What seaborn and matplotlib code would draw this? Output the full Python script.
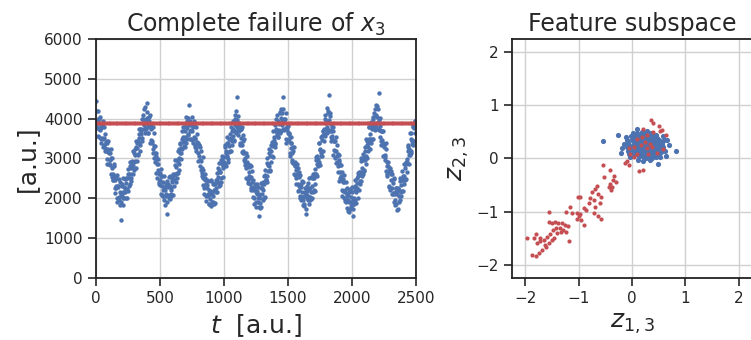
import numpy as np
import pandas as pd
import matplotlib
matplotlib.use("Agg")
import matplotlib.pyplot as plt
import seaborn as sns

# --- left panel: sensor signal over time, two interleaved sample streams ---
t_step = 5
signal = [
    4450, 3760, 3970, 4180, 3740, 3550, 3860, 3720, 3380, 3840, 3850, 3500, 3350, 3800, 3200, 3400, 3200, 3450, 2850, 3250,
    2850, 3150, 2950, 2600, 3000, 3000, 2600, 2450, 2850, 2250, 2450, 2250, 2500, 1900, 2300, 2300, 1950, 2150, 2400, 1450,
    2350, 2050, 2000, 2500, 2000, 2250, 2150, 2500, 2000, 2500, 2600, 2300, 2600, 2900, 2600, 2500, 2900, 2850, 2600, 3150,
    2900, 3250, 2750, 3300, 3400, 3100, 3450, 3750, 3400, 3350, 3750, 3700, 3450, 4000, 4100, 3850, 3750, 4300, 3750, 4000,
    4400, 3850, 3650, 3950, 3800, 3400, 3850, 3800, 3400, 3250, 3650, 3000, 3150, 2900, 3150, 2500, 2850, 2850, 2400, 2600,
    2450, 2100, 2550, 2550, 2200, 2050, 2550, 1950, 2200, 2050, 2350, 1600, 2300, 2350, 2000, 2300, 2550, 2200, 2050, 2450,
    2500, 2600, 2300, 2600, 2950, 2600, 2500, 2950, 2900, 2700, 3250, 3400, 3150, 3150, 3700, 3250, 3550, 3450, 3800, 3300,
    3900, 3400, 3850, 3950, 3600, 3850, 4350, 3700, 3500, 3850, 3700, 3400, 3850, 3850, 3500, 3350, 3800, 3200, 3400, 3150,
    3400, 3350, 2950, 2800, 3200, 2550, 2750, 2500, 2700, 2100, 2500, 2450, 2050, 2250, 2450, 2050, 1850, 2200, 2100, 1800,
    2450, 1900, 2150, 2050, 2350, 1850, 2350, 2450, 2150, 2450, 2750, 2400, 2300, 2700, 2650, 2400, 2950, 3050, 2800, 2750,
    2800, 3350, 2850, 3150, 3050, 3400, 2900, 3400, 3500, 3200, 3500, 3800, 3450, 3350, 3750, 3700, 3450, 4000, 4100, 3850,
    4550, 3800, 3600, 3900, 3700, 3350, 3750, 3750, 3350, 3200, 3600, 2950, 3150, 2900, 3150, 2500, 2900, 2850, 2450, 2650,
    2500, 2350, 2800, 2200, 2400, 2200, 2450, 1850, 2250, 2250, 1900, 2100, 2350, 1900, 1550, 2100, 2000, 1750, 2250, 2350,
    2250, 2200, 2000, 2550, 2700, 2450, 2450, 3000, 2550, 2850, 2800, 3150, 2700, 3200, 3350, 3050, 3400, 3700, 3400, 3300,
    3400, 3700, 4000, 3650, 3550, 3950, 3900, 3650, 4150, 4250, 3950, 3850, 4550, 3750, 3950, 3750, 4000, 3400, 3800, 3800,
    3650, 3450, 3650, 3050, 3400, 3400, 2950, 3150, 3300, 2850, 2600, 2900, 2700, 2350, 2750, 2750, 2350, 2200, 2650, 2050,
    2350, 1950, 2150, 2400, 1950, 1800, 2150, 2050, 1600, 2250, 2300, 2050, 1950, 2500, 1950, 2250, 2150, 2500, 2000, 2500,
    2200, 2600, 2600, 2350, 2950, 3050, 2850, 2800, 3400, 2900, 3250, 3150, 3550, 3050, 3600, 3700, 3450, 3750, 4100, 3750,
    3900, 3650, 4150, 4200, 4600, 3700, 4150, 3550, 3700, 3500, 3700, 3100, 3450, 3450, 3000, 3200, 3350, 2900, 2650, 2950,
    3100, 2500, 2650, 2450, 2650, 2050, 2400, 2400, 2000, 2200, 2400, 1950, 1750, 2100, 1950, 1650, 2150, 2200, 1900, 1800,
    2150, 1550, 1950, 1900, 2450, 1950, 2250, 2150, 2500, 2000, 2550, 2650, 2350, 2650, 3000, 2650, 2550, 3000, 2950, 2700,
    2950, 3300, 2850, 3350, 3450, 3200, 3500, 3800, 3500, 3400, 3800, 3750, 3500, 4050, 4150, 3900, 3800, 4350, 3800, 4050,
    4250, 3900, 3750, 4650, 3550, 3700, 3450, 3700, 3050, 3400, 3350, 2950, 3100, 3250, 2800, 2550, 2800, 2650, 2300, 2750,
    2200, 2600, 2600, 2250, 2100, 2500, 1900, 2150, 1950, 2250, 1700, 2150, 2250, 1900, 2200, 2500, 2150, 2050, 2450, 2450,
    2550, 2850, 2550, 2450, 2900, 2850, 2650, 3200, 3350, 3100, 3100, 3650, 3200, 3500, 3450, 3800, 3350, 3850, 3950, 3650,
]
signal_b = [
    3820, 4180, 3980, 3560, 3980, 3760, 4040, 3490, 3770, 3520, 3930, 3290, 3510, 3270, 3620, 3410, 2980, 3390, 3160, 3430,
    2870, 3140, 2830, 3230, 2540, 2760, 2470, 2820, 2560, 2130, 2540, 2310, 2580, 2020, 2290, 2030, 2480, 1840, 2110, 1920,
    2320, 2160, 1830, 2290, 2160, 2480, 2020, 2390, 2230, 2730, 2190, 2510, 2370, 2820, 2760, 2430, 2940, 2810, 3180, 2720,
    3090, 2930, 3430, 2940, 3260, 3120, 3620, 3510, 3180, 3740, 3610, 3980, 3520, 3890, 3730, 4230, 3640, 3960, 3770, 4170,
    4010, 3630, 4040, 3810, 4080, 3470, 3740, 3430, 3780, 3140, 3310, 3020, 3320, 3060, 2630, 2990, 2710, 2980, 2370, 2640,
    2330, 2730, 2090, 2310, 2070, 2420, 2260, 1830, 2290, 2110, 2430, 1920, 2290, 2080, 2530, 1990, 2260, 2120, 2520, 2410,
    2080, 2590, 2460, 2830, 2420, 2790, 2630, 3180, 2640, 3010, 2870, 3370, 3260, 2980, 3490, 3410, 3780, 3320, 3690, 3530,
    4030, 3490, 3760, 3620, 4020, 3860, 3480, 3940, 3710, 4030, 3470, 3790, 3530, 3930, 3290, 3510, 3270, 3620, 3410, 2930,
    3340, 3060, 3280, 2720, 2940, 2630, 3030, 2340, 2510, 2270, 2620, 2360, 1930, 2340, 2110, 2430, 1870, 2190, 1980, 2430,
    1840, 2110, 1920, 2370, 2210, 1880, 2390, 2260, 2630, 2170, 2540, 2380, 2880, 2340, 2660, 2520, 2970, 2860, 2530, 3040,
    2910, 3280, 2820, 3190, 3030, 3530, 2990, 3310, 3170, 3620, 3510, 3180, 3690, 3560, 3930, 3470, 3840, 3680, 4180, 3640,
    3960, 3720, 4070, 3860, 3380, 3790, 3510, 3780, 3170, 3440, 3130, 3480, 2840, 3010, 2770, 3070, 2860, 2380, 2790, 2560,
    2830, 2270, 2540, 2280, 2680, 2040, 2260, 2020, 2370, 2160, 1780, 2190, 2010, 2280, 1770, 2090, 1880, 2380, 1790, 2110,
    1970, 2420, 2360, 2030, 2590, 2460, 2880, 2420, 2840, 2680, 3230, 2690, 3060, 2920, 3420, 3310, 3030, 3540, 3460, 3830,
    3370, 3740, 3580, 4080, 3540, 3860, 3720, 4170, 4010, 3680, 4140, 3960, 4230, 3720, 3990, 3730, 4130, 3490, 3710, 3470,
    3820, 3610, 3130, 3540, 3260, 3530, 2920, 3190, 2880, 3280, 2590, 2810, 2520, 2870, 2610, 2180, 2540, 2310, 2580, 2020,
    2290, 2030, 2430, 1840, 2060, 1870, 2270, 2110, 1730, 2190, 2010, 2380, 1870, 2240, 2030, 2530, 1990, 2310, 2170, 2620,
    2510, 2180, 2740, 2610, 3030, 2570, 2990, 2830, 3380, 2840, 3210, 3070, 3570, 3460, 3180, 3690, 3610, 3980, 3570, 3940,
    3780, 4280, 3690, 3960, 3720, 4070, 3860, 3430, 3790, 3560, 3780, 3220, 3440, 3180, 3530, 2890, 3060, 2820, 3120, 2910,
    2430, 2840, 2560, 2830, 2220, 2490, 2180, 2580, 1940, 2160, 1920, 2270, 2060, 1680, 2090, 1910, 2230, 1720, 2040, 1830,
    2280, 1740, 2010, 1870, 2320, 2210, 1880, 2390, 2260, 2630, 2220, 2590, 2430, 2930, 2440, 2760, 2620, 3120, 3010, 2680,
    3190, 3060, 3480, 3020, 3390, 3280, 3780, 3240, 3610, 3470, 3920, 3810, 3480, 3990, 3860, 4230, 3720, 4090, 3880, 4330,
    3740, 3960, 3720, 4020, 3810, 3330, 3690, 3460, 3680, 3070, 3290, 3030, 3380, 2690, 2910, 2620, 2920, 2710, 2280, 2690,
    2460, 2680, 2120, 2390, 2130, 2480, 1840, 2110, 1870, 2270, 2110, 1730, 2240, 2060, 2430, 1970, 2340, 2180, 2680, 2190,
    2510, 2370, 2870, 2760, 2480, 2990, 2910, 3280, 2870, 3240, 3130, 3630, 3140, 3460, 3370, 3820, 3760, 3430, 3940, 3810,
]
failed_level = 3900  # reconstruction stuck at a constant after the failure

# --- right panel: feature subspace ---
normal_z1 = [0.05, 0.12, 0.20, 0.28, 0.35, 0.18, 0.08, 0.25, 0.40, 0.15,
             -0.05, 0.30, 0.45, 0.22, 0.02, 0.10, 0.32, 0.50, 0.38, -0.10,
             0.00, 0.27, 0.14, 0.42, 0.55, 0.07, 0.19, 0.33, 0.48, -0.02,
             0.24, 0.11, 0.36, 0.16, 0.29, 0.04, 0.43, 0.21, 0.09, 0.31,
             0.52, -0.08, 0.26, 0.13, 0.39, 0.06, 0.23, 0.46, 0.17, 0.34,
             -0.15, 0.58, 0.01, 0.41, 0.20, 0.60, -0.12, 0.28, 0.53, -0.04,
             0.12, 0.22, 0.30, 0.18, 0.26, 0.08, 0.36, 0.14, 0.24, 0.32,
             0.02, 0.44, 0.10, 0.38, 0.16, 0.47, 0.05, 0.30, 0.20, 0.40,
             -0.07, 0.56, 0.35, 0.00, 0.27, 0.50, 0.12, 0.44, 0.62, -0.18,
             0.66, 0.82, -0.54, -0.27, 0.48, 0.70, 0.64, -0.20, 0.58, 0.10,
             0.15, 0.25, 0.19, 0.29, 0.09, 0.34, 0.21, 0.13, 0.37, 0.06,
             0.42, 0.23, 0.03, 0.31, 0.17, 0.45, 0.11, 0.27, 0.39, 0.07,
             0.49, -0.01, 0.33, 0.24, 0.16, 0.41, 0.20, 0.28, 0.04, 0.36,
             0.54, -0.06, 0.18, 0.44, 0.22, 0.09, 0.32, 0.14, 0.38, 0.26,
             0.51, 0.01, 0.30, 0.46, 0.12, 0.35, 0.19, 0.57, -0.09, 0.25]
normal_z2 = [0.30, 0.22, 0.35, 0.18, 0.28, 0.10, 0.40, 0.45, 0.15, 0.28,
             0.25, 0.05, 0.30, 0.02, 0.15, 0.48, 0.40, 0.20, 0.00, 0.35,
             0.05, 0.30, 0.15, 0.42, 0.12, 0.20, 0.50, 0.12, 0.05, 0.42,
             0.25, 0.35, 0.35, 0.40, 0.22, 0.10, 0.22, 0.17, 0.27, 0.48,
             0.28, 0.15, 0.08, 0.05, 0.25, 0.35, 0.38, 0.38, 0.22, -0.02,
             0.28, 0.22, 0.48, 0.08, -0.05, 0.35, 0.40, 0.52, 0.02, 0.02,
             0.30, 0.30, 0.32, 0.26, 0.20, 0.25, 0.20, 0.36, 0.14, 0.26,
             0.22, 0.16, 0.12, 0.40, 0.46, 0.25, 0.45, 0.10, 0.42, 0.32,
             0.30, 0.30, 0.48, 0.35, 0.00, 0.35, -0.02, 0.02, 0.15, 0.20,
             0.34, 0.14, 0.32, 0.44, -0.11, 0.25, 0.05, 0.10, 0.42, 0.55,
             0.20, 0.35, 0.32, 0.16, 0.32, 0.32, 0.24, 0.42, 0.10, 0.16,
             0.28, 0.06, 0.28, 0.38, 0.13, 0.10, 0.20, 0.42, 0.18, 0.08,
             0.14, 0.18, 0.05, 0.48, 0.33, 0.37, 0.12, 0.27, 0.38, 0.14,
             0.18, 0.08, 0.04, 0.45, 0.20, 0.44, 0.20, 0.25, 0.30, 0.36,
             0.08, 0.40, 0.44, 0.20, 0.10, 0.24, 0.38, 0.26, 0.22, 0.10]
fault_z1 = [0.36, 0.39, 0.50, 0.56, 0.53, 0.63, 0.20, 0.39, 0.28, 0.19,
            0.09, 0.25, 0.34, 0.16, 0.04, -0.06, 0.28, 0.38, 0.09, -0.03,
            0.03, -0.09, -0.14, -0.06, 0.13, 0.21, 0.46, 0.58, 0.30,
            -0.54, -0.41, -0.52, -0.34, -0.36, -0.31, -0.42, -0.39, -0.44, -0.38,
            -0.66, -0.69, -0.63, -0.58, -0.75, -0.78, -0.72, -0.81, -0.69, -0.61,
            -0.86, -0.72, -0.64, -0.59, -1.02, -0.98, -0.91,
            -1.03, -0.97, -1.00, -1.04, -0.96, -0.91, -1.17, -1.13, -1.23,
            -1.55, -1.56, -1.50, -1.44, -1.38, -1.31, -1.25, -1.21, -1.29, -1.34,
            -1.23, -1.19, -1.41, -1.48, -1.53, -1.46, -1.59, -1.66, -1.72, -1.81,
            -1.83, -1.78, -1.73, -1.63, -1.69, -1.75, -1.81, -1.88, -1.96, -1.61,
            -1.56, -1.50, -1.42, -1.36]
fault_z2 = [0.72, 0.67, 0.61, 0.54, 0.51, 0.44, 0.56, 0.50, 0.44, 0.41,
            0.37, 0.31, 0.28, 0.25, 0.22, 0.19, 0.19, 0.22, 0.09, 0.08,
            0.03, -0.04, -0.09, -0.12, -0.23, -0.22, 0.11, 0.18, 0.08,
            -0.12, -0.22, -0.34, -0.33, -0.41, -0.44, -0.48, -0.59, -0.53, -0.53,
            -0.52, -0.58, -0.66, -0.72, -0.63, -0.75, -0.78, -0.84, -0.91, -0.84,
            -0.97, -1.03, -1.09, -1.13, -0.72, -0.72, -0.94,
            -1.02, -1.04, -1.09, -1.13, -1.16, -1.25, -0.91, -1.02, -1.00,
            -1.00, -1.19, -1.21, -1.19, -1.21, -1.22, -1.25, -1.28, -1.34, -1.38,
            -1.39, -1.56, -1.41, -1.34, -1.42, -1.50, -1.47, -1.53, -1.50, -1.42,
            -1.50, -1.59, -1.56, -1.63, -1.72, -1.78, -1.83, -1.81, -1.50, -1.67,
            -1.59, -1.53, -1.31, -1.30]

blue = "#4C72B0"
red = "#C44E52"

t = np.arange(len(signal)) * t_step
sig = pd.concat([pd.DataFrame({"t": t, "value": signal}),
                 pd.DataFrame({"t": t + t_step / 2, "value": signal_b})])
failed = pd.DataFrame({"t": np.arange(0, 2500, 14)})
failed["value"] = failed_level
normal = pd.DataFrame({"z1": normal_z1, "z2": normal_z2})
fault = pd.DataFrame({"z1": fault_z1, "z2": fault_z2})

sns.set_theme(style="ticks", rc={"axes.grid": True, "axes.edgecolor": "#222222",
                                 "axes.linewidth": 1.3, "grid.color": "#d0d0d0"})

fig = plt.figure(figsize=(7.51, 3.4), dpi=100)
ax1 = fig.add_axes([0.1278, 0.1824, 0.4261, 0.7029])
ax2 = fig.add_axes([0.6818, 0.1824, 0.3196, 0.7029])

sns.scatterplot(data=sig, x="t", y="value", ax=ax1, color=blue, s=10, linewidth=0)
sns.scatterplot(data=failed, x="t", y="value", ax=ax1, color=red, s=9, linewidth=0)
ax1.set_xlim(0, 2500)
ax1.set_ylim(0, 6000)
ax1.set_xticks(range(0, 2501, 500))
ax1.set_yticks(range(0, 6001, 1000))
ax1.set_title("Complete failure of $x_3$", fontsize=17)
ax1.set_xlabel("$t$  [a.u.]", fontsize=18)
ax1.set_ylabel("[a.u.]", fontsize=18)

sns.scatterplot(data=normal, x="z1", y="z2", ax=ax2, color=blue, s=14, linewidth=0)
sns.scatterplot(data=fault, x="z1", y="z2", ax=ax2, color=red, s=9, linewidth=0)
ax2.set_xlim(-2.25, 2.25)
ax2.set_ylim(-2.25, 2.25)
ax2.set_xticks([-2, -1, 0, 1, 2])
ax2.set_yticks([-2, -1, 0, 1, 2])
ax2.set_title("Feature subspace", fontsize=17)
ax2.set_xlabel("$z_{1,3}$", fontsize=18)
ax2.set_ylabel("$z_{2,3}$", fontsize=18)

for ax in (ax1, ax2):
    ax.tick_params(labelsize=11, length=6, width=1.2)
    for sp in ax.spines.values():
        sp.set_visible(True)

fig.savefig("out.png", dpi=100)
